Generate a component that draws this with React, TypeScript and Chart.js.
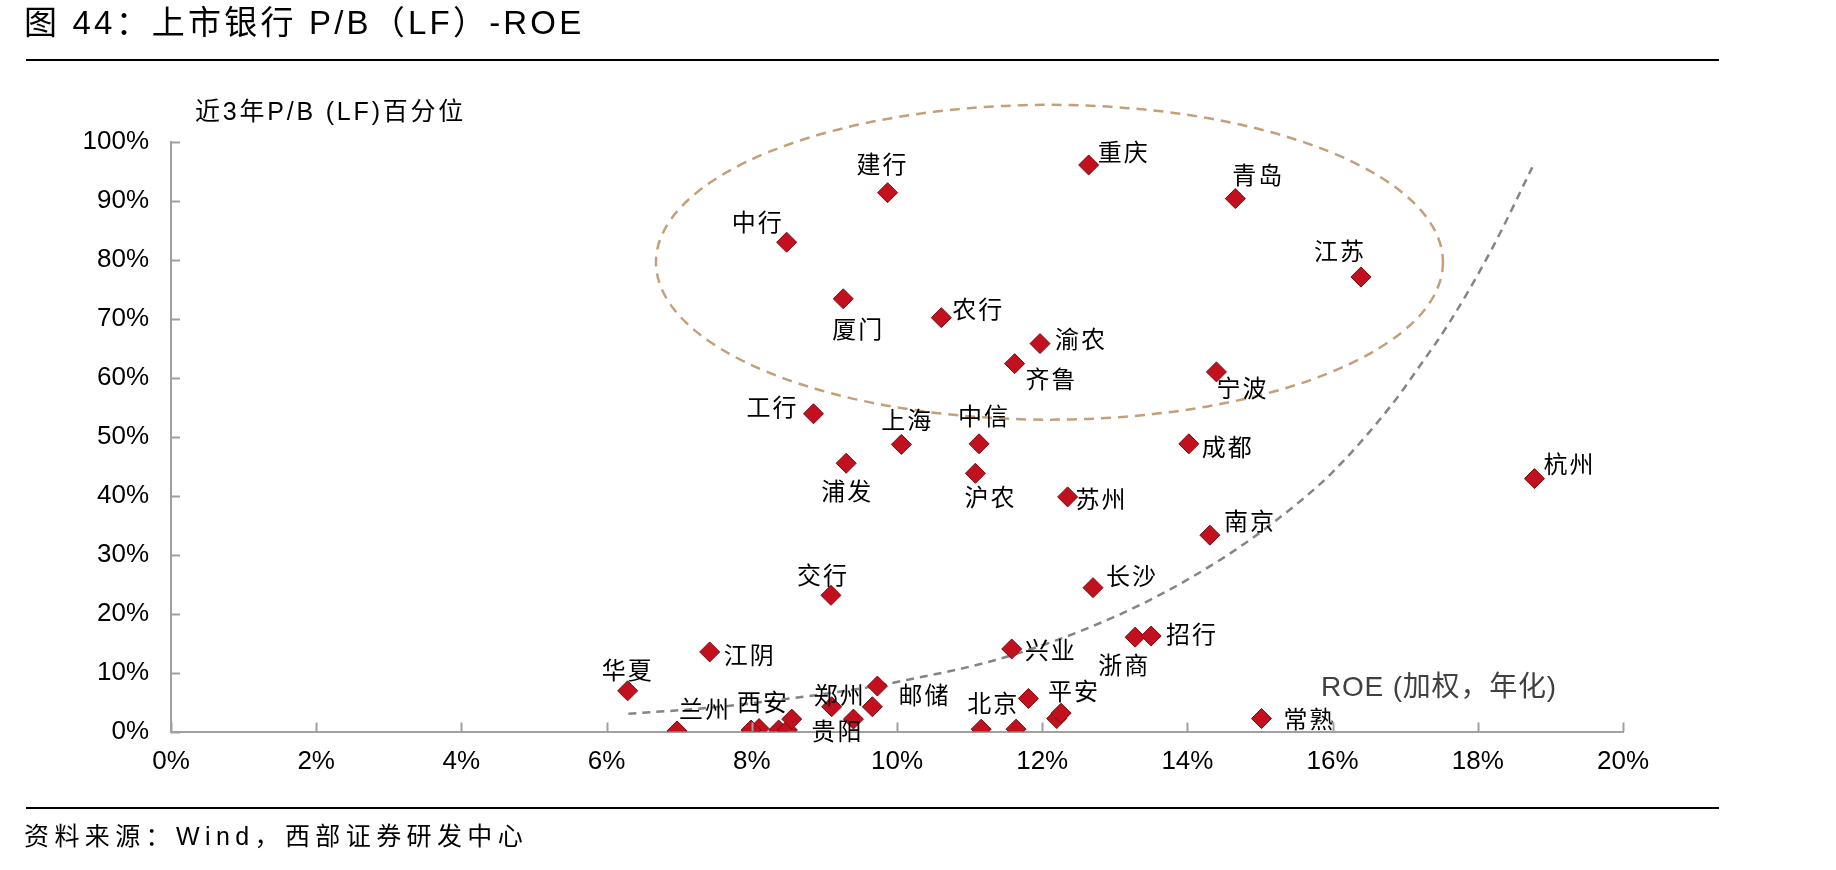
import React, { useEffect, useRef } from "react";
import { Chart, registerables } from "chart.js";

Chart.register(...registerables);

// ---- Data (ROE in %, P/B 3-year percentile in %) ----
const bankNames = [
  "建行", "中行", "厦门", "农行", "渝农", "齐鲁", "工行", "重庆", "青岛", "江苏",
  "宁波", "上海", "中信", "浦发", "沪农", "苏州", "交行", "江阴", "兴业", "成都",
  "杭州", "南京", "长沙", "浙商", "招行", "华夏", "兰州", "西安", "", "",
  "", "", "郑州", "贵阳", "", "邮储", "北京", "", "", "",
  "平安", "常熟",
];
const roeValues = [
  9.87, 8.48, 9.26, 10.61, 11.97, 11.62, 8.85, 12.64, 14.66, 16.39,
  14.4, 10.06, 11.13, 9.3, 11.08, 12.35, 9.09, 7.42, 11.58, 14.02,
  18.78, 14.31, 12.7, 13.28, 13.5, 6.29, 6.97, 8.1, 7.99, 8.37,
  8.49, 8.55, 9.1, 9.4, 9.66, 9.73, 11.16, 11.64, 11.81, 12.2,
  12.26, 15.02,
];
const pbPercentile = [
  91.4, 83.0, 73.4, 70.2, 65.8, 62.4, 53.9, 96.1, 90.4, 77.1,
  61.0, 48.7, 48.8, 45.5, 43.8, 39.8, 23.1, 13.5, 14.0, 48.8,
  42.9, 33.3, 24.4, 16.0, 16.2, 6.9, 0.1, 0.5, 0.25, 0.25,
  0.25, 2.1, 4.2, 2.1, 4.2, 7.7, 0.4, 0.4, 5.6, 2.2,
  3.1, 2.2,
];

// dashed trend curve
const trendRoe = [6.3, 7.4, 8.0, 8.9, 9.7, 10.2, 11.0, 11.6, 12.5, 13.5, 14.5, 15.2, 16.0, 16.8, 17.2, 17.6, 18.2, 18.75];
const trendPb = [3.0, 4.0, 4.8, 6.2, 7.7, 8.9, 11.0, 13.0, 16.9, 22.4, 29.5, 35.6, 44.0, 55.2, 62.0, 69.2, 82.0, 95.7];

// highlighted ellipse (center and radii in data units)
const ellipseCenter = [12.1, 79.6];
const ellipseRadii = [5.42, 26.7];

// axis ticks
const xMin = 0, xMax = 20, xStep = 2;
const yMin = 0, yMax = 100, yStep = 10;

// label placement (pixel offset of label centre from its marker)
const labelOffsets: Record<string, [number, number]> = {
  建行: [-6, -29], 中行: [-30, -20], 厦门: [14, 30], 农行: [36, -9], 渝农: [40, -5],
  齐鲁: [36, 15], 工行: [-42, -7], 重庆: [34, -13], 青岛: [22, -24], 江苏: [-22, -26],
  宁波: [25, 16], 上海: [5, -25], 中信: [4, -28], 浦发: [0, 28], 沪农: [14, 24],
  苏州: [33, 2], 交行: [-9, -20], 江阴: [39, 3], 兴业: [38, 1], 成都: [38, 3],
  杭州: [34, -15], 南京: [39, -14], 长沙: [38, -12], 浙商: [-12, 28], 招行: [40, -2],
  华夏: [-1, -21], 兰州: [27, -22], 西安: [3, -27], 郑州: [7, -12], 贵阳: [-17, 12],
  邮储: [46, 9], 北京: [11, -26], 平安: [12, -22], 常熟: [47, 0],
};

const TITLE = "图 44：上市银行 P/B（LF）-ROE";
const Y_TITLE = "近3年P/B (LF)百分位";
const X_TITLE = "ROE (加权，年化)";
const SOURCE = "资料来源：Wind，西部证券研发中心";

const LATIN = '"Liberation Sans", Arial, "Noto Sans CJK SC", sans-serif';
const CJK = '"Noto Sans CJK SC", "Liberation Sans", sans-serif';

const decorPlugin = {
  id: "decor",
  beforeDatasetsDraw(chart: any) {
    const ctx = chart.ctx;
    const xs = chart.scales.x;
    const ys = chart.scales.y;
    const cx = xs.getPixelForValue(ellipseCenter[0]);
    const cy = ys.getPixelForValue(ellipseCenter[1]);
    const rx = Math.abs(xs.getPixelForValue(ellipseCenter[0] + ellipseRadii[0]) - cx);
    const ry = Math.abs(ys.getPixelForValue(ellipseCenter[1] + ellipseRadii[1]) - cy);
    ctx.save();
    ctx.strokeStyle = "#C4A07A";
    ctx.lineWidth = 2.5;
    ctx.setLineDash([10, 7]);
    ctx.beginPath();
    ctx.ellipse(cx, cy, rx, ry, 0, 0, Math.PI * 2);
    ctx.stroke();
    ctx.restore();
  },
  afterDatasetsDraw(chart: any) {
    const ctx = chart.ctx;
    const xs = chart.scales.x;
    const ys = chart.scales.y;
    ctx.save();
    ctx.fillStyle = "#000";
    ctx.font = `24px ${CJK}`;
    (ctx as any).letterSpacing = "2px";
    ctx.textAlign = "center";
    ctx.textBaseline = "middle";
    bankNames.forEach((name, i) => {
      if (!name) return;
      const off = labelOffsets[name] || [0, -22];
      const px = xs.getPixelForValue(roeValues[i]);
      const py = ys.getPixelForValue(pbPercentile[i]);
      ctx.fillText(name, px + off[0] + 1, py + off[1]);
    });
    ctx.restore();
  },
  afterDraw(chart: any) {
    const ctx = chart.ctx;
    const xs = chart.scales.x;
    const ys = chart.scales.y;
    const area = chart.chartArea;
    ctx.save();
    // inward tick marks
    ctx.strokeStyle = "#A0A0A0";
    ctx.lineWidth = 2;
    ctx.setLineDash([]);
    xs.ticks.forEach((t: any) => {
      const x = Math.round(xs.getPixelForValue(t.value)) + 0.5;
      ctx.beginPath();
      ctx.moveTo(x, area.bottom);
      ctx.lineTo(x, area.bottom - 9);
      ctx.stroke();
    });
    ys.ticks.forEach((t: any) => {
      const y = Math.round(ys.getPixelForValue(t.value)) + 0.5;
      ctx.beginPath();
      ctx.moveTo(area.left, y);
      ctx.lineTo(area.left + 9, y);
      ctx.stroke();
    });

    // title
    ctx.fillStyle = "#000";
    ctx.textAlign = "left";
    ctx.textBaseline = "middle";
    ctx.font = `33px ${LATIN}`;
    (ctx as any).letterSpacing = "3.2px";
    ctx.fillText(TITLE, 24, 25);

    // rules
    ctx.fillStyle = "#000";
    ctx.fillRect(26, 59, 1693, 2);
    ctx.fillRect(26, 807, 1693, 2);

    // y axis title
    ctx.font = `25px ${LATIN}`;
    (ctx as any).letterSpacing = "2.8px";
    ctx.fillStyle = "#000";
    ctx.fillText(Y_TITLE, 195, 113);

    // x axis title
    ctx.font = `28px ${LATIN}`;
    (ctx as any).letterSpacing = "0.8px";
    ctx.fillStyle = "#404040";
    ctx.fillText(X_TITLE, 1321, 688);

    // source
    ctx.font = `25px ${LATIN}`;
    (ctx as any).letterSpacing = "5.4px";
    ctx.fillStyle = "#000";
    ctx.fillText(SOURCE, 24, 838);
    ctx.restore();
  },
};

export default function App() {
  const ref = useRef<HTMLCanvasElement | null>(null);

  useEffect(() => {
    document.body.style.margin = "0";
    const canvas = ref.current;
    if (!canvas) return;
    const chart = new Chart(canvas, {
      type: "scatter",
      data: {
        datasets: [
          {
            label: "银行",
            data: roeValues.map((x, i) => ({ x, y: pbPercentile[i] })),
            pointStyle: "rectRot",
            pointRadius: 10,
            pointBackgroundColor: "#C3101F",
            pointBorderColor: "#7A0A10",
            pointBorderWidth: 1,
            showLine: false,
            order: 0,
          },
          {
            label: "趋势",
            data: trendRoe.map((x, i) => ({ x, y: trendPb[i] })),
            showLine: true,
            pointRadius: 0,
            borderColor: "#858585",
            borderWidth: 2.5,
            borderDash: [8, 6],
            cubicInterpolationMode: "monotone",
            fill: false,
            order: 1,
          },
        ],
      },
      options: {
        animation: false,
        responsive: false,
        maintainAspectRatio: false,
        layout: { padding: { left: 0, top: 142, right: 213, bottom: 78.5 } },
        plugins: {
          legend: { display: false },
          tooltip: { enabled: false },
          title: { display: false },
        },
        scales: {
          x: {
            type: "linear",
            min: xMin,
            max: xMax,
            ticks: {
              stepSize: xStep,
              callback: (v: any) => `${v}%`,
              color: "#000",
              font: { family: LATIN, size: 26 },
              padding: 15,
              maxRotation: 0,
              autoSkip: false,
            },
            grid: { display: false, drawTicks: false },
            border: { display: true, color: "#A0A0A0", width: 2 },
            afterFit: (s: any) => {
              s.height = 60;
            },
          },
          y: {
            type: "linear",
            min: yMin,
            max: yMax,
            ticks: {
              stepSize: yStep,
              callback: (v: any) => `${v}%`,
              color: "#000",
              font: { family: LATIN, size: 26 },
              padding: 22,
              autoSkip: false,
            },
            grid: { display: false, drawTicks: false },
            border: { display: true, color: "#A0A0A0", width: 2 },
            afterFit: (s: any) => {
              s.width = 171;
            },
          },
        },
      } as any,
      plugins: [decorPlugin],
    });
    return () => chart.destroy();
  }, []);

  return (
    <div style={{ width: 1836, height: 870, background: "#fff" }}>
      <canvas ref={ref} width={1836} height={870} style={{ display: "block" }} />
    </div>
  );
}
